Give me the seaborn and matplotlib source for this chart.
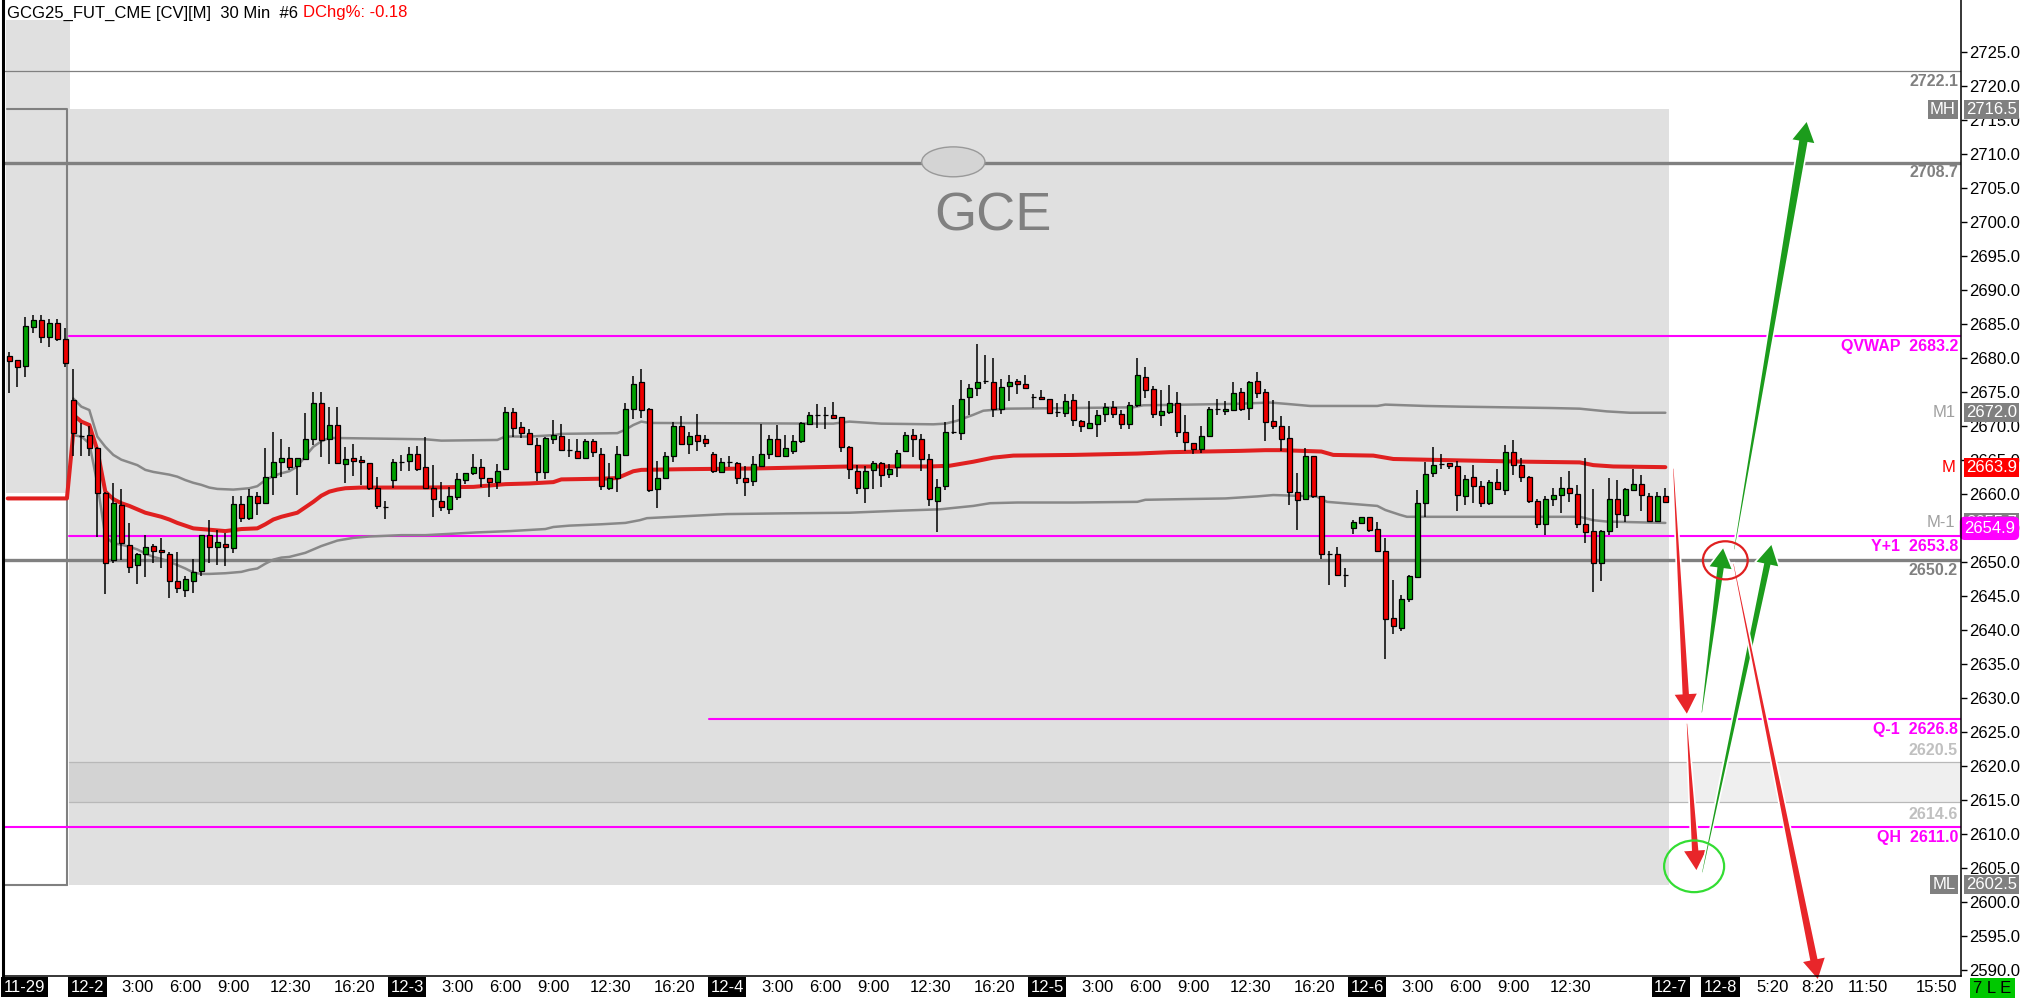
import numpy as np
import matplotlib
matplotlib.use("Agg")
import matplotlib.pyplot as plt
import seaborn as sns
from matplotlib.patches import Rectangle, Ellipse, Polygon
from matplotlib.transforms import IdentityTransform, blended_transform_factory

# 30 min bars, bar 0 = first bar of 12-2, 40 bars per session
FIRST_BAR = -8

opens = [2680.2, 2679.6, 2678.8, 2684.5, 2685.5, 2683.0, 2685.1, 2682.7,
         2673.8, 2668.5, 2668.7, 2666.7, 2660.1, 2650.3, 2658.3, 2652.5, 2649.5, 2651.2,
         2652.3, 2651.7, 2651.2, 2647.2, 2645.9, 2647.2, 2648.7, 2653.9, 2652.2, 2652.6,
         2652.0, 2658.5, 2656.4, 2659.7, 2658.7, 2662.4, 2664.6, 2665.2, 2664.0, 2665.1,
         2668.1, 2673.4, 2668.0, 2670.1, 2664.3, 2665.2, 2664.9, 2664.5, 2660.8, 2658.1,
         2662.0, 2664.6, 2664.8, 2665.8, 2663.9, 2660.8, 2658.9, 2657.7, 2659.5, 2662.0,
         2663.0, 2663.9, 2662.3, 2661.7, 2663.6, 2672.0, 2669.8, 2668.9, 2667.1, 2663.2,
         2668.0, 2668.5, 2666.4, 2666.3, 2665.2, 2667.7, 2665.9, 2660.9, 2662.3, 2665.7,
         2672.4, 2676.4, 2672.4, 2660.7, 2662.3, 2665.6, 2670.0, 2667.3, 2668.6, 2668.1,
         2665.9, 2663.2, 2664.6, 2664.5, 2662.3, 2661.9, 2664.1, 2665.9, 2668.1, 2665.6,
         2666.3, 2667.7, 2670.3, 2671.6, 2671.6, 2671.5, 2671.3, 2666.8, 2663.4, 2660.8,
         2663.5, 2664.5, 2662.9, 2663.9, 2666.3, 2668.6, 2668.0, 2665.1, 2658.9, 2661.1,
         2669.1, 2668.9, 2674.2, 2675.5, 2676.5, 2676.4, 2672.4, 2675.8, 2676.6, 2676.1,
         2674.2, 2674.2, 2673.9, 2672.0, 2671.9, 2673.8, 2670.7, 2669.6, 2670.2, 2671.7,
         2672.7, 2671.7, 2670.2, 2673.0, 2677.2, 2675.4, 2671.5, 2672.0, 2673.3, 2669.1,
         2667.4, 2666.5, 2668.5, 2672.4, 2672.1, 2672.3, 2674.9, 2672.6, 2676.5, 2674.9,
         2670.7, 2670.0, 2668.2, 2660.3, 2659.2, 2665.6, 2659.7, 2651.1, 2651.1, 2648.0,
         2654.9, 2655.7, 2656.5, 2654.8, 2651.6, 2641.7, 2640.3, 2644.5, 2647.8, 2658.6,
         2663.0, 2664.3, 2664.5, 2664.0, 2659.7, 2662.4, 2661.2, 2658.6, 2661.7, 2660.6,
         2666.2, 2664.2, 2662.5, 2658.9, 2655.6, 2659.2, 2659.8, 2660.9, 2659.9, 2655.5,
         2654.5, 2649.8, 2654.5, 2659.2, 2656.9, 2660.6, 2661.4, 2659.7, 2656.0, 2659.6]
highs = [2680.8, 2679.7, 2686.0, 2686.3, 2686.3, 2685.7, 2685.7, 2684.3,
         2678.4, 2670.4, 2669.9, 2666.9, 2660.2, 2661.6, 2660.7, 2655.7, 2651.3, 2653.9,
         2652.6, 2653.5, 2651.4, 2651.4, 2647.9, 2650.4, 2653.9, 2656.2, 2654.6, 2654.2,
         2659.7, 2659.7, 2660.7, 2660.2, 2666.7, 2669.1, 2668.0, 2666.8, 2665.2, 2671.9,
         2674.9, 2674.9, 2672.7, 2672.7, 2666.9, 2667.3, 2665.5, 2664.5, 2662.5, 2658.9,
         2665.1, 2665.7, 2666.8, 2667.0, 2668.4, 2664.2, 2661.7, 2661.0, 2663.0, 2663.1,
         2665.8, 2665.1, 2662.3, 2664.4, 2672.7, 2672.6, 2670.5, 2669.5, 2668.2, 2668.4,
         2670.9, 2670.3, 2668.0, 2668.0, 2668.0, 2668.0, 2666.7, 2664.5, 2667.0, 2673.3,
         2677.3, 2678.3, 2672.6, 2664.8, 2666.1, 2670.6, 2671.4, 2669.0, 2671.7, 2668.6,
         2666.1, 2665.2, 2665.5, 2664.7, 2664.0, 2665.6, 2670.3, 2668.6, 2670.1, 2668.6,
         2668.6, 2670.6, 2672.0, 2673.2, 2672.8, 2673.5, 2671.3, 2667.0, 2664.2, 2664.1,
         2664.8, 2664.7, 2664.3, 2666.4, 2669.0, 2669.5, 2668.8, 2665.9, 2662.2, 2670.6,
         2673.0, 2676.7, 2676.2, 2682.0, 2680.4, 2679.9, 2676.9, 2677.5, 2676.8, 2677.5,
         2674.6, 2675.3, 2673.9, 2673.3, 2674.7, 2674.6, 2670.8, 2673.6, 2672.3, 2673.3,
         2673.6, 2672.3, 2673.5, 2679.9, 2678.6, 2675.8, 2675.3, 2676.0, 2674.9, 2671.5,
         2667.4, 2670.0, 2672.7, 2673.9, 2673.6, 2676.4, 2675.5, 2676.6, 2677.9, 2675.4,
         2673.8, 2671.4, 2670.0, 2663.0, 2666.7, 2665.6, 2659.7, 2651.5, 2652.1, 2649.1,
         2656.1, 2656.6, 2656.6, 2655.8, 2653.5, 2647.3, 2645.1, 2648.0, 2660.6, 2664.7,
         2666.8, 2665.9, 2664.5, 2664.8, 2662.8, 2664.2, 2661.9, 2662.0, 2663.6, 2667.2,
         2667.9, 2665.2, 2662.6, 2659.2, 2659.7, 2660.8, 2662.5, 2663.3, 2661.3, 2665.2,
         2660.7, 2654.6, 2662.3, 2662.0, 2660.8, 2663.6, 2662.8, 2660.1, 2660.2, 2660.8]
lows = [2674.8, 2675.7, 2677.2, 2683.7, 2682.1, 2681.5, 2682.5, 2678.7,
        2665.5, 2665.6, 2665.6, 2653.7, 2645.3, 2649.8, 2650.3, 2648.4, 2646.7, 2647.7,
        2649.8, 2649.0, 2644.6, 2645.4, 2644.8, 2645.4, 2647.9, 2649.8, 2649.5, 2649.3,
        2651.3, 2655.9, 2656.1, 2656.9, 2658.7, 2659.8, 2662.5, 2663.5, 2659.8, 2664.9,
        2667.2, 2665.4, 2664.4, 2664.4, 2661.6, 2662.6, 2661.3, 2660.5, 2657.7, 2656.3,
        2660.8, 2663.4, 2663.4, 2663.4, 2660.8, 2656.6, 2657.5, 2657.0, 2659.0, 2661.4,
        2662.8, 2661.0, 2659.5, 2660.7, 2663.5, 2668.4, 2668.2, 2667.1, 2661.9, 2662.2,
        2667.3, 2666.3, 2665.4, 2665.1, 2665.1, 2665.4, 2660.6, 2660.6, 2660.2, 2665.5,
        2671.0, 2671.1, 2660.3, 2657.9, 2662.2, 2664.6, 2667.2, 2665.9, 2666.3, 2666.9,
        2663.1, 2663.1, 2663.9, 2661.4, 2659.6, 2661.2, 2664.1, 2665.1, 2665.4, 2665.6,
        2665.9, 2667.4, 2670.2, 2669.6, 2669.5, 2671.0, 2666.2, 2662.1, 2659.9, 2658.7,
        2660.7, 2661.0, 2662.3, 2662.4, 2666.2, 2665.4, 2663.4, 2658.2, 2654.3, 2660.6,
        2668.8, 2667.9, 2671.6, 2674.3, 2676.1, 2671.3, 2671.7, 2673.7, 2674.7, 2675.5,
        2672.6, 2673.9, 2671.8, 2671.3, 2671.3, 2670.0, 2669.1, 2669.5, 2668.4, 2670.6,
        2671.2, 2669.5, 2669.5, 2672.8, 2674.1, 2671.2, 2670.0, 2671.7, 2668.4, 2666.3,
        2665.9, 2666.0, 2668.4, 2671.5, 2671.6, 2672.2, 2672.1, 2670.8, 2674.0, 2667.7,
        2669.5, 2666.3, 2658.3, 2654.6, 2659.2, 2659.3, 2650.4, 2646.6, 2647.9, 2646.3,
        2654.0, 2655.6, 2654.3, 2651.5, 2635.7, 2639.3, 2639.8, 2644.0, 2647.7, 2656.5,
        2662.4, 2663.6, 2663.7, 2657.4, 2658.3, 2658.7, 2658.0, 2658.4, 2660.7, 2659.8,
        2662.7, 2661.7, 2658.6, 2655.0, 2653.9, 2658.2, 2657.2, 2658.8, 2655.0, 2652.7,
        2645.5, 2647.2, 2653.9, 2655.0, 2655.9, 2660.6, 2657.5, 2656.0, 2656.0, 2658.7]
closes = [2679.5, 2678.6, 2684.6, 2685.5, 2683.0, 2685.1, 2682.7, 2679.2,
          2668.9, 2668.5, 2666.7, 2660.1, 2649.8, 2658.6, 2652.7, 2649.2, 2651.2, 2652.1,
          2651.5, 2651.4, 2647.1, 2646.1, 2647.4, 2648.5, 2653.9, 2652.2, 2652.9, 2652.1,
          2658.5, 2656.4, 2659.7, 2658.7, 2662.4, 2664.6, 2665.2, 2663.9, 2665.2, 2668.1,
          2673.3, 2667.9, 2670.1, 2664.5, 2665.1, 2664.8, 2664.6, 2660.8, 2658.2, 2658.1,
          2664.6, 2664.6, 2665.9, 2663.7, 2660.8, 2659.2, 2658.0, 2659.6, 2662.1, 2663.1,
          2663.9, 2662.3, 2661.7, 2663.4, 2672.0, 2669.6, 2668.9, 2667.3, 2663.2, 2668.2,
          2668.6, 2666.4, 2666.4, 2665.2, 2667.7, 2666.2, 2661.1, 2662.3, 2665.8, 2672.4,
          2676.2, 2672.3, 2660.6, 2662.3, 2665.6, 2670.0, 2667.3, 2668.5, 2667.8, 2667.5,
          2663.3, 2664.6, 2664.6, 2662.3, 2661.7, 2664.3, 2665.9, 2668.0, 2665.5, 2666.7,
          2667.7, 2670.4, 2671.5, 2671.6, 2671.6, 2671.2, 2666.8, 2663.6, 2660.8, 2663.4,
          2664.5, 2662.8, 2663.7, 2666.0, 2668.6, 2668.0, 2665.1, 2659.2, 2661.0, 2669.1,
          2669.1, 2673.9, 2675.5, 2676.4, 2676.5, 2672.4, 2675.7, 2676.4, 2676.1, 2675.5,
          2674.2, 2673.9, 2671.9, 2672.0, 2673.6, 2670.8, 2670.0, 2670.4, 2671.5, 2672.7,
          2671.7, 2670.2, 2673.0, 2677.4, 2675.3, 2671.7, 2672.1, 2673.4, 2669.1, 2667.6,
          2666.5, 2668.5, 2672.4, 2672.4, 2672.4, 2674.8, 2672.4, 2676.4, 2674.8, 2670.6,
          2669.9, 2668.0, 2660.2, 2659.0, 2665.6, 2659.7, 2651.1, 2651.1, 2648.0, 2648.0,
          2655.8, 2656.6, 2654.7, 2651.6, 2641.5, 2640.5, 2644.5, 2647.9, 2658.6, 2662.9,
          2664.2, 2664.3, 2664.0, 2659.8, 2662.1, 2661.2, 2658.6, 2661.7, 2660.7, 2666.1,
          2664.2, 2662.4, 2658.9, 2655.6, 2659.2, 2659.8, 2660.8, 2660.1, 2655.6, 2654.3,
          2649.8, 2654.5, 2659.2, 2657.0, 2660.7, 2661.4, 2659.8, 2656.0, 2659.6, 2658.8]

# VWAP (M) and its bands (M1 / M-1)
vwap_x = [-8.2, -0.8, 0.2, 1, 2, 3, 4, 5, 6, 7, 8, 9, 10, 11, 12, 13, 14, 15, 17, 19,
          21, 23, 24, 25, 26, 27, 28, 29, 30, 31, 32, 33, 34, 36, 44, 50, 54, 57, 60,
          61, 66, 68, 69, 70, 71, 76, 85, 93, 97, 107, 109.5, 112.5, 115, 117.5, 125,
          133, 137, 146, 149, 151, 156, 157.5, 162.5, 165, 173, 181.7, 188.3, 190,
          192.5, 199]
vwap_y = [2659.3, 2659.3, 2671.4, 2670.6, 2670.1, 2666.4, 2660.3, 2659.2, 2658.6,
          2658.2, 2657.7, 2657.2, 2656.9, 2656.6, 2656.2, 2655.7, 2655.3, 2654.9,
          2654.7, 2654.5, 2654.8, 2654.9, 2655.5, 2656.2, 2656.6, 2656.9, 2657.2,
          2658.0, 2658.8, 2659.7, 2660.3, 2660.6, 2660.8, 2660.9, 2660.9, 2661.0,
          2661.4, 2661.5, 2661.7, 2662.1, 2662.2, 2662.3, 2662.8, 2663.3, 2663.5,
          2663.6, 2663.7, 2663.9, 2664.0, 2664.0, 2664.1, 2664.7, 2665.3, 2665.6,
          2665.7, 2665.9, 2666.1, 2666.3, 2666.4, 2666.4, 2666.2, 2665.7, 2665.6,
          2665.1, 2664.9, 2664.7, 2664.6, 2664.2, 2664.0, 2663.9]
upper_x = [0, 1, 2, 3, 4, 5, 6, 7, 8, 9, 10, 11, 12, 13, 14, 15, 16, 17, 18, 20, 21,
           22, 23, 24, 25, 26, 27, 28, 29, 30, 31, 32, 44, 46, 53, 54, 57, 60, 61, 68,
           69, 70, 71, 72, 95, 97, 101, 107.5, 109, 110.4, 112.5, 113.75, 116.7, 125,
           132.5, 133.75, 145, 149.6, 151.7, 154.6, 163, 164, 169, 173.3, 179, 184.6,
           188.3, 191.7, 194.6, 199]
upper_y = [2674.0, 2672.8, 2672.3, 2668.4, 2666.9, 2665.7, 2665.0, 2664.6, 2664.2,
           2663.5, 2663.2, 2663.0, 2662.8, 2662.5, 2662.0, 2661.6, 2661.3, 2660.9,
           2660.7, 2660.6, 2660.7, 2660.8, 2661.1, 2662.0, 2662.6, 2663.0, 2663.3,
           2664.0, 2665.5, 2666.9, 2667.7, 2668.2, 2668.0, 2667.8, 2667.9, 2668.4,
           2668.4, 2668.6, 2668.8, 2668.9, 2669.4, 2670.1, 2670.6, 2670.4, 2670.3,
           2670.6, 2670.3, 2670.2, 2670.3, 2670.7, 2671.6, 2672.2, 2672.5, 2672.6,
           2672.7, 2673.0, 2673.2, 2673.4, 2673.2, 2672.9, 2672.9, 2673.1, 2672.9,
           2672.8, 2672.7, 2672.6, 2672.5, 2672.1, 2671.9, 2671.9]
lower_x = [0, 1, 2, 3, 4, 5, 6, 7, 8, 9, 10, 11, 12, 13, 14, 15, 16, 17, 19, 20, 21,
           22, 23, 24, 25, 26, 27, 28, 29, 30, 31, 32, 33, 34, 35, 36, 37, 41, 44,
           50.4, 54.6, 59, 60, 62, 66, 69, 70.8, 71.7, 76.7, 81.7, 88.3, 97, 103.3,
           108.3, 112.5, 114.6, 118, 125, 133, 134, 138.75, 144, 148, 150, 155.4,
           156.7, 163, 164, 165.8, 166.7, 188.3, 190, 191.7, 199]
lower_y = [2668.6, 2668.4, 2667.4, 2661.5, 2653.7, 2652.7, 2652.5, 2652.2, 2651.8,
           2651.2, 2650.7, 2650.4, 2650.0, 2649.5, 2649.0, 2648.4, 2648.2, 2648.2,
           2648.3, 2648.4, 2648.5, 2648.8, 2649.0, 2649.7, 2650.3, 2650.6, 2650.7,
           2651.0, 2651.3, 2651.8, 2652.3, 2652.7, 2653.1, 2653.3, 2653.5, 2653.6,
           2653.7, 2653.9, 2653.9, 2654.3, 2654.5, 2654.8, 2655.1, 2655.3, 2655.5,
           2655.7, 2656.1, 2656.4, 2656.7, 2657.0, 2657.1, 2657.2, 2657.5, 2657.7,
           2658.2, 2658.6, 2658.7, 2658.7, 2658.8, 2659.1, 2659.2, 2659.3, 2659.6,
           2659.8, 2659.6, 2658.8, 2658.2, 2657.6, 2656.9, 2656.6, 2656.6, 2656.1,
           2655.9, 2655.7]

# horizontal levels
level_price = [2722.1, 2708.7, 2683.2, 2653.8, 2650.2, 2626.8, 2611.0]
level_text = ["2722.1", "2708.7", "QVWAP  2683.2", "Y+1  2653.8", "2650.2",
              "Q-1  2626.8", "QH  2611.0"]
level_start = [None, None, -0.6, -0.6, None, 79.5, None]
level_kind = ["thin", "thick", "mag", "mag", "thick", "mag", "mag"]
band_low, band_high = 2614.6, 2620.5
month_high, month_low = 2716.5, 2602.5
prev_low, prev_high = 2660.1, 2729.7

# right axis price boxes
box_price = [2716.5, 2672.0, 2663.9, 2655.7, 2602.5]
box_face = ["#808080", "#808080", "#ff0000", "#808080", "#808080"]
tag_text = ["MH", "M1", "M", "M-1", "ML"]
tag_color = ["white", "#a0a0a0", "#ff0000", "#a0a0a0", "white"]
tag_boxed = [True, False, False, False, True]
last_price = 2654.9

# drawn arrows and circles
arrow_tail = [(200.0, 2663.8), (201.7, 2626.3), (203.55, 2627.7), (203.6, 2604.2),
              (207.5, 2649.8), (207.6, 2651.7)]
arrow_tip = [(201.7, 2627.4), (202.9, 2604.4), (206.25, 2652.2), (212.3, 2652.7),
             (218.1, 2588.4), (216.7, 2714.9)]
arrow_color = ["#e8262a", "#e8262a", "#1c9c1c", "#1c9c1c", "#e8262a", "#1c9c1c"]
arrow_shaft = [8, 8, 8, 8, 9, 10]

# x axis labels
day_ticks = [-8.7, -0.35, 39.65, 79.65, 119.65, 159.65, 197.6, 203.8]
day_labels = ["11-29", "12-2", "12-3", "12-4", "12-5", "12-6", "12-7", "12-8"]
time_offsets = [6.0, 12.0, 18.0, 24.5, 32.5]
time_names = ["3:00", "6:00", "9:00", "12:30", "16:20"]
future_ticks = [210.4, 216.0, 221.8, 230.3]
future_labels = ["5:20", "8:20", "11:50", "15:50"]

sns.set_style("white")
plt.rcParams["font.family"] = ["Liberation Sans", "DejaVu Sans"]

fig = plt.figure(figsize=(20.28, 9.98), dpi=100)
ax = fig.add_axes([3 / 2028, 22 / 998, 1958 / 2028, 976 / 998])
ax.set_xlim(-8.79, 235.96)
ax.set_ylim(2589.07, 2732.6)
x_end = 235.96
ax_x = blended_transform_factory(ax.transAxes, ax.transData)
x_ax = blended_transform_factory(ax.transData, ax.transAxes)

# shaded ranges
ax.add_patch(Rectangle((-8.4, prev_low), 8.0, prev_high - prev_low, fc="#e0e0e0", ec="none", zorder=0.2))
ax.add_patch(Rectangle((-0.5, month_low), 200, month_high - month_low, fc="#e0e0e0", ec="none", zorder=0.2))
ax.add_patch(Rectangle((-0.5, band_low), 200, band_high - band_low, fc="#d3d3d3", ec="none", zorder=0.3))
ax.add_patch(Rectangle((199.5, band_low), x_end - 199.5, band_high - band_low, fc="#efefef", ec="none", zorder=0.3))
for p in (band_low, band_high):
    ax.plot([-0.5, x_end], [p, p], color="#b8b8b8", lw=0.9, zorder=0.4)
ax.plot([-8.3, -0.8, -0.8], [month_high, month_high, month_low], color="#808080", lw=1.5, zorder=0.5)
ax.plot([-8.5, -0.8], [month_low, month_low], color="#808080", lw=1.5, zorder=0.5)

# levels
styles = {"thin": ("#808080", 0.9), "thick": ("#808080", 2.4), "mag": ("#ff00ff", 1.5)}
for p, t, s, k in zip(level_price, level_text, level_start, level_kind):
    c, lw = styles[k]
    ax.plot([-8.79 if s is None else s, x_end], [p, p], color=c, lw=lw, zorder=0.6)
    ax.annotate(t, xy=(0.9985, p), xycoords=ax_x, xytext=(0, -2), textcoords="offset points",
                ha="right", va="top", fontsize=11.5, color=c, fontweight="bold", zorder=4)
ax.annotate("2620.5", xy=(0.9985, band_high), xycoords=ax_x, xytext=(0, 3), textcoords="offset points",
            ha="right", va="bottom", fontsize=11.5, color="#c0c0c0", fontweight="bold")
ax.annotate("2614.6", xy=(0.9985, band_low), xycoords=ax_x, xytext=(0, -3), textcoords="offset points",
            ha="right", va="top", fontsize=11.5, color="#c0c0c0", fontweight="bold")

# VWAP and bands
sns.lineplot(x=upper_x, y=upper_y, ax=ax, color="#888888", lw=1.8, sort=False, estimator=None, zorder=1)
sns.lineplot(x=lower_x, y=lower_y, ax=ax, color="#888888", lw=1.8, sort=False, estimator=None, zorder=1)
sns.lineplot(x=vwap_x, y=vwap_y, ax=ax, color="#e02020", lw=2.9, sort=False, estimator=None, zorder=1.2)

# candles
o, h, l, c = map(np.array, (opens, highs, lows, closes))
xs = np.arange(FIRST_BAR, FIRST_BAR + len(o))
cols = np.where(c > o, "#00a000", "#f00000")
ax.vlines(xs, l, h, color="black", lw=1.1, zorder=2)
ax.bar(xs, np.abs(c - o), bottom=np.minimum(o, c), width=0.62, color=cols,
       edgecolor="black", linewidth=0.9, zorder=3)

# GCE marker
ax.add_patch(Ellipse((110.0, 2708.8), 7.9, 4.4, fc="#d4d4d4", ec="#999999", lw=1.0, zorder=3))
ax.text(115.0, 2700.7, "GCE", fontsize=39, color="#808080", ha="center", va="center", zorder=3)


def taper_arrow(tail, tip, color, shaft, head_w=25, head_len=22):
    p0 = ax.transData.transform(tail)
    p1 = ax.transData.transform(tip)
    d = p1 - p0
    u = d / np.hypot(*d)
    n = np.array([-u[1], u[0]])
    base = p1 - u * head_len
    pts = [p0 + n * 1.0, base + n * shaft / 2, base + n * head_w / 2, p1,
           base - n * head_w / 2, base - n * shaft / 2, p0 - n * 1.0]
    ax.add_patch(Polygon(pts, closed=True, transform=IdentityTransform(), fc=color,
                         ec="white", lw=1.2, zorder=6, clip_on=False))


for t0, t1, col, sh in zip(arrow_tail, arrow_tip, arrow_color, arrow_shaft):
    taper_arrow(t0, t1, col, sh)

ax.add_patch(Ellipse((206.5, 2650.2), 5.6, 5.6, fc="none", ec="#e02020", lw=1.6, zorder=7))
ax.add_patch(Ellipse((202.6, 2605.2), 7.5, 7.6, fc="none", ec="#33dd33", lw=1.6, zorder=7))

# right axis
ax.yaxis.tick_right()
ax.set_yticks(np.arange(2590, 2726, 5))
ax.set_yticklabels([f"{v:.1f}" for v in np.arange(2590, 2726, 5)])
ax.tick_params(axis="y", length=4, width=1, pad=2, labelsize=12, colors="black", direction="out")
for p, fc, tg, tc, tb in zip(box_price, box_face, tag_text, tag_color, tag_boxed):
    ax.text(1.0025, p, f"{p:.1f}", transform=ax_x, ha="left", va="center", fontsize=12,
            color="white", clip_on=False, zorder=8,
            bbox=dict(boxstyle="square,pad=0.12", fc=fc, ec="none"))
    ax.text(0.9972, p, tg, transform=ax_x, ha="right", va="center", fontsize=12, color=tc,
            zorder=8, bbox=dict(boxstyle="square,pad=0.12", fc="#808080", ec="none") if tb else None)
ax.text(1.0015, last_price, f"{last_price:.1f}", transform=ax_x, ha="left", va="center",
        fontsize=12, color="white", clip_on=False, zorder=9,
        bbox=dict(boxstyle="round,pad=0.25,rounding_size=0.3", fc="#ff00ff", ec="none"))

# x axis
time_ticks, time_labels = [], []
for d0 in day_ticks[1:5]:
    for off, nm in zip(time_offsets, time_names):
        time_ticks.append(d0 + 0.35 + off)
        time_labels.append(nm)
for off, nm in zip(time_offsets[:4], time_names[:4]):
    time_ticks.append(day_ticks[5] + 0.35 + off)
    time_labels.append(nm)
time_ticks += future_ticks
time_labels += future_labels
ax.set_xticks(day_ticks + time_ticks)
ax.set_xticklabels([])
ax.tick_params(axis="x", length=3, width=1, colors="black", direction="out")
for xt, lb in zip(day_ticks, day_labels):
    ax.text(xt, -0.004, lb, transform=x_ax, ha="left", va="top", fontsize=12,
            color="white", clip_on=False,
            bbox=dict(boxstyle="square,pad=0.15", fc="black", ec="none"))
for xt, lb in zip(time_ticks, time_labels):
    ax.text(xt, -0.004, lb, transform=x_ax, ha="left", va="top", fontsize=12,
            color="black", clip_on=False)
fig.text(1973 / 2028, 2 / 998, "7 L E", fontsize=12, color="black", ha="left",
         va="bottom", bbox=dict(boxstyle="square,pad=0.2", fc="#00c800", ec="none"))

ax.spines["top"].set_visible(False)
ax.spines["left"].set_linewidth(2.2)
ax.spines["right"].set_linewidth(1.1)
ax.spines["bottom"].set_linewidth(1.1)
for s in ("left", "right", "bottom"):
    ax.spines[s].set_color("black")
    ax.spines[s].set_zorder(10)

# title
t1 = fig.text(7 / 2028, 1 - 13 / 998, "GCG25_FUT_CME [CV][M]  30 Min  #6 ", fontsize=12,
              color="black", ha="left", va="center")
fig.canvas.draw()
bb = t1.get_window_extent(fig.canvas.get_renderer())
fig.text(bb.x1 / 2028, 1 - 13 / 998, "DChg%: -0.18", fontsize=12, color="#ff0000",
         ha="left", va="center")

fig.savefig("out.png", dpi=100)
